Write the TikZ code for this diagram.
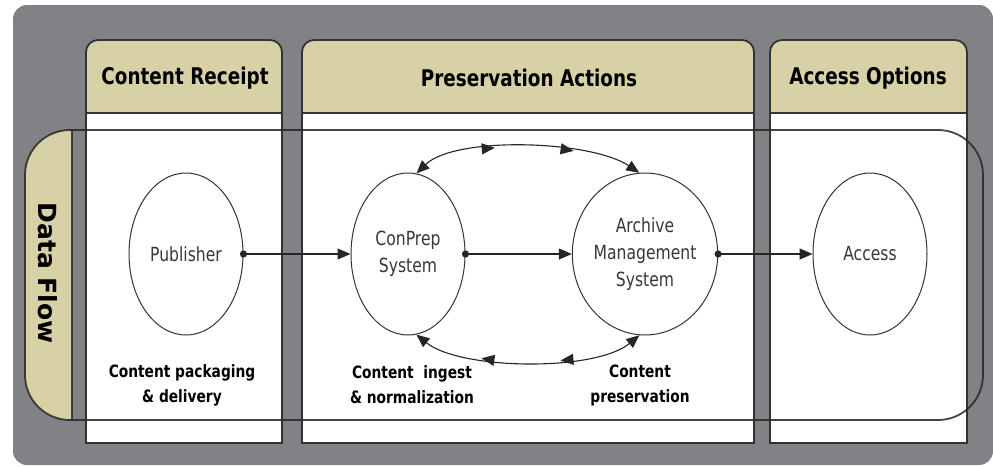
\documentclass[tikz,border=0pt]{standalone}
\usepackage{fontspec}
\setmainfont{DejaVu Sans}
\newfontfamily\hdfont{DejaVu Sans}[FakeStretch=0.80]
\newfontfamily\cfont{DejaVu Sans}[FakeStretch=0.80]
\newfontfamily\lfont{DejaVu Sans}[FakeStretch=0.81]
\usetikzlibrary{shapes.geometric,arrows.meta,decorations.markings}
\definecolor{bggray}{HTML}{808285}
\definecolor{tanc}{HTML}{D9D1A6}
\definecolor{edgec}{HTML}{333333}
\newcommand{\mycolumn}[2]{%
  \fill[white] (#1,443) -- (#1,52) arc[start angle=180,end angle=270,radius=12] -- ({#2-12},40) arc[start angle=270,end angle=360,radius=12] -- (#2,443) -- cycle;
  \fill[tanc] (#1,113) -- (#1,52) arc[start angle=180,end angle=270,radius=12] -- ({#2-12},40) arc[start angle=270,end angle=360,radius=12] -- (#2,113) -- cycle;
  \draw[colline] (#1,443) -- (#1,52) arc[start angle=180,end angle=270,radius=12] -- ({#2-12},40) arc[start angle=270,end angle=360,radius=12] -- (#2,443) -- cycle;
  \draw[colline] (#1,113) -- (#2,113);
}
\begin{document}
\begin{tikzpicture}[x=1pt,y=-1pt,
  colline/.style={draw=edgec,line width=1.8pt},
  bandline/.style={draw=black!85,line width=1.8pt,opacity=0.85},
  hdr/.style={font=\hdfont\bfseries\fontsize{23}{26}\selectfont,text=black},
  proc/.style={ellipse,draw=black!80,line width=1pt,fill=white,minimum width=114pt,minimum height=162pt,inner sep=0pt,align=center,font=\cfont\fontsize{19.5}{27}\selectfont,text=black!78},
  lbl/.style={align=center,font=\lfont\bfseries\fontsize{17}{25}\selectfont,text=black},
  flow/.style={draw=black!85,line width=1.1pt,-{Triangle[length=13pt,width=11pt]}},
  loop/.style={draw=black!85,line width=1.1pt,{Triangle[length=13pt,width=11pt]}-{Triangle[length=13pt,width=11pt]},postaction={decorate},
    decoration={markings,
      mark=at position 0.36 with {\arrow{Triangle[length=13pt,width=11pt]}},
      mark=at position 0.70 with {\arrow{Triangle[length=13pt,width=11pt]}}}},
  dot/.style={fill=black!85}
]
\useasboundingbox (0,0) rectangle (993,466);
\fill[white] (0,0) rectangle (993,466);
\fill[bggray,rounded corners=14pt] (13,5) rectangle (993,465);

\mycolumn{86}{282}
\mycolumn{302}{754}
\mycolumn{770}{967}

% data flow band
\begin{scope}
  \clip (20,125) rectangle (72,425);
  \fill[tanc,rounded corners=45pt] (25,130) rectangle (983,420);
\end{scope}
\draw[bandline,rounded corners=45pt] (25,130) rectangle (983,420);
\draw[bandline] (72,130) -- (72,420);
\node[rotate=-90,font=\bfseries\fontsize{25}{30}\selectfont,text=black] (df) at (48,273) {Data Flow};

% headers
\node[hdr] (h1) at (185,78) {Content Receipt};
\node[hdr] (h2) at (529,78) {Preservation Actions};
\node[hdr] (h3) at (868,78) {Access Options};

% processes
\node[proc] (pub) at (186,254) {Publisher};
\node[proc] (cp) at (408,254) {ConPrep\\System};
\node[proc] (am) at (645,254) {Archive\\Management\\System};
\node[proc] (acc) at (870,254) {Access};

% flows
\draw[flow] (pub.east) -- (cp.west);
\draw[flow] (cp.east) -- (am.west);
\draw[flow] (am.east) -- (acc.west);
\fill[dot] (pub.east) circle (3.6pt);
\fill[dot] (cp.east) circle (3.6pt);
\fill[dot] (am.east) circle (3.6pt);

\draw[loop] (cp.84) .. controls (455,136) and (590,140) .. (am.94);
\draw[loop] (am.-94) .. controls (595,372) and (460,370) .. (cp.-84);

% labels
\node[lbl] (l1) at (182,385) {Content packaging\\\& delivery};
\node[lbl] (l2) at (412,385) {Content\ \ ingest\\\& normalization};
\node[lbl] (l3) at (640,385) {Content\\preservation};
\end{tikzpicture}
\end{document}
